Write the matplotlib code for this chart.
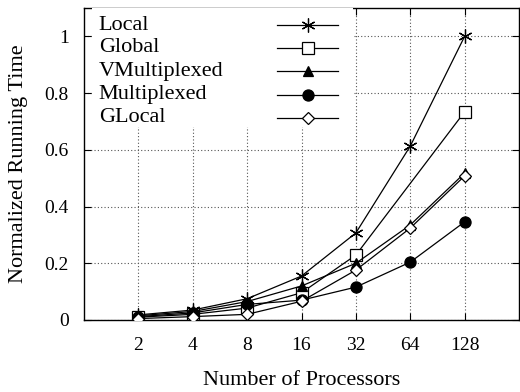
import numpy as np
import matplotlib.pyplot as plt
from matplotlib.patches import Rectangle

plt.rcParams['font.family'] = ['Liberation Serif', 'DejaVu Serif']

procs = ["2", "4", "8", "16", "32", "64", "128"]

local = [0.018, 0.035, 0.075, 0.155, 0.307, 0.613, 1.0]
# Global has no point at 64
global_idx = [0, 1, 2, 3, 4, 6]
global_ = [0.010, 0.020, 0.042, 0.096, 0.229, 0.734]
vmulti = [0.015, 0.030, 0.065, 0.120, 0.200, 0.335, 0.518]
multi = [0.012, 0.025, 0.055, 0.070, 0.116, 0.204, 0.346]
glocal = [0.005, 0.012, 0.020, 0.066, 0.176, 0.324, 0.508]

fig = plt.figure(figsize=(5.2, 3.92), dpi=100)
ax = fig.add_axes([84 / 520, 72 / 392, 435 / 520, 312 / 392])

x = np.arange(1, len(procs) + 1)
xg = x[global_idx]

lw = 0.9
series = [
    ("Local", x, local, dict(marker=(6, 2, 0), ms=10, mfc="black", mew=0.9)),
    ("Global", xg, global_, dict(marker="s", ms=9, mfc="white", mew=0.9)),
    ("VMultiplexed", x, vmulti, dict(marker="^", ms=7.5, mfc="black", mew=0.9)),
    ("Multiplexed", x, multi, dict(marker="o", ms=8, mfc="black", mew=0.9)),
    ("GLocal", x, glocal, dict(marker="D", ms=6, mfc="white", mew=0.9)),
]

for name, xs, ys, mk in series:
    ax.plot(xs, ys, color="black", lw=lw, mec="black", zorder=3, **mk)

ax.set_xlim(0, 8)
ax.set_ylim(0, 1.1)
ax.set_xticks(x)
ax.set_xticklabels(procs)
ax.set_yticks([0, 0.2, 0.4, 0.6, 0.8, 1.0])
ax.set_yticklabels(["0", "0.2", "0.4", "0.6", "0.8", "1"])
ax.tick_params(direction="in", top=True, right=True, length=5, width=0.8,
               labelsize=14)
ax.tick_params(axis="x", pad=12)
ax.tick_params(axis="y", pad=11)
ax.grid(True, color="#555555", ls=(0, (1, 2)), lw=0.8)
for s in ax.spines.values():
    s.set_linewidth(1.0)

ax.set_xlabel("Number of Processors", fontsize=16)
ax.set_ylabel("Normalized Running Time", fontsize=16)
ax.xaxis.set_label_coords(0.5, -0.165)
ax.yaxis.set_label_coords(-0.128, 0.5)

# legend, gnuplot style: text left, key on the right
ax.add_patch(Rectangle((0.018, 0.62), 0.6, 0.38, transform=ax.transAxes,
                       facecolor="white", edgecolor="none", zorder=4))
row_y = [0.9455, 0.872, 0.797, 0.722, 0.648]
for (name, xs, ys, mk), ry in zip(series, row_y):
    ax.text(0.034, ry, name, transform=ax.transAxes, fontsize=16,
            va="center", ha="left", zorder=5)
    ax.plot([0.4427, 0.5849], [ry, ry], color="black", lw=lw,
            transform=ax.transAxes, zorder=5, clip_on=False)
    ax.plot([0.5138], [ry], color="black", mec="black", lw=0,
            transform=ax.transAxes, zorder=6, clip_on=False, **mk)

fig.savefig("out.png", dpi=100)
